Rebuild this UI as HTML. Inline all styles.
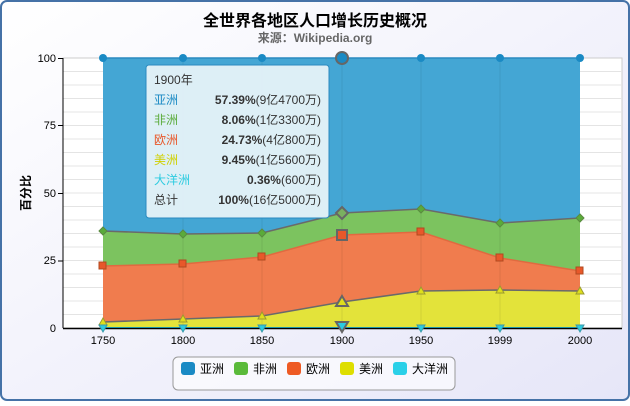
<!DOCTYPE html>
<html><head><meta charset="utf-8"><style>
body{margin:0;width:630px;height:401px;overflow:hidden;font-family:"Liberation Sans","Noto Sans CJK SC",sans-serif;}
</style></head><body>
<svg width="630" height="401" xmlns="http://www.w3.org/2000/svg" font-family="Liberation Sans, Noto Sans CJK SC, sans-serif">
<defs><linearGradient id="bg" x1="0" y1="0" x2="1" y2="1"><stop offset="0" stop-color="#ffffff"/><stop offset="1" stop-color="#e6e6f8"/></linearGradient></defs>
<rect x="1" y="1" width="628" height="399" rx="6" fill="url(#bg)" stroke="#4572a7" stroke-width="2"/>
<text x="315" y="26" text-anchor="middle" font-size="16" font-weight="bold" fill="#000">全世界各地区人口增长历史概况</text>
<text x="315" y="42" text-anchor="middle" font-size="12" font-weight="bold" fill="#666">来源：Wikipedia.org</text>
<rect x="63" y="58" width="559" height="270" fill="#fff" stroke="#ccc"/>
<g stroke="#e4e4e4" stroke-width="1">
<path d="M63 71.5H622M63 85H622M63 98.5H622M63 112H622M63 125.5H622M63 139H622M63 152.5H622M63 166H622M63 179.5H622M63 193H622M63 206.5H622M63 220H622M63 233.5H622M63 247H622M63 260.5H622M63 274H622M63 287.5H622M63 301H622M63 314.5H622"/>
</g>
<path d="M103 58H580V328H103Z" fill="#44a6d4"/>
<path d="M103 231L183 234L262 233L342 213L421 209L500 223L580 218V328H103Z" fill="#7cc35f"/>
<path d="M103 266L183 264L262 257L342 235L421 232L500 258L580 271V328H103Z" fill="#f07c4e"/>
<path d="M103 322L183 319L262 316L342 302L421 291L500 290L580 291V328H103Z" fill="#e3e33a"/>
<path d="M103 327H580V328H103Z" fill="#27c7e0"/>
<g stroke="rgba(0,0,0,0.08)"><path d="M183 58V328M262 58V328M342 58V328M421 58V328M500 58V328"/></g>
<g fill="none" stroke="#6a6a6a" stroke-width="1.5">
<path d="M103 58H580" stroke="#2a8ac0"/>
<path d="M103 231L183 234L262 233L342 213L421 209L500 223L580 218"/>
<path d="M103 266L183 264L262 257L342 235L421 232L500 258L580 271" stroke="#e06a40"/>
<path d="M103 322L183 319L262 316L342 302L421 291L500 290L580 291"/>
</g>
<line x1="63" y1="328.5" x2="622" y2="328.5" stroke="#000" stroke-width="1.5"/>
<line x1="63" y1="58" x2="63" y2="328" stroke="#000"/>
<g stroke="#000"><path d="M58 58.5H63M58 193.5H63M58 261H63M58 125.5H63"/></g>
<g font-size="11" fill="#000" text-anchor="end">
<text x="56" y="62">100</text><text x="56" y="129">75</text><text x="56" y="197">50</text><text x="56" y="264">25</text><text x="56" y="332">0</text></g>
<text transform="translate(30,193) rotate(-90)" text-anchor="middle" font-size="12" font-weight="bold">百分比</text>
<g font-size="11" text-anchor="middle">
<text x="103" y="344">1750</text><text x="183" y="344">1800</text><text x="262" y="344">1850</text><text x="342" y="344">1900</text><text x="421" y="344">1950</text><text x="500" y="344">1999</text><text x="580" y="344">2000</text></g>
<g fill="#1a8ac4"><circle cx="103" cy="58" r="4"/><circle cx="183" cy="58" r="4"/><circle cx="262" cy="58" r="4"/><circle cx="421" cy="58" r="4"/><circle cx="500" cy="58" r="4"/><circle cx="580" cy="58" r="4"/><circle cx="342" cy="58" r="6" stroke="#666" stroke-width="2"/></g>
<g fill="#5aab3a" stroke="#5a8a40"><path d="M103 227l4 4-4 4-4-4z"/><path d="M183 230l4 4-4 4-4-4z"/><path d="M262 229l4 4-4 4-4-4z"/><path d="M421 205l4 4-4 4-4-4z"/><path d="M500 219l4 4-4 4-4-4z"/><path d="M580 214l4 4-4 4-4-4z"/><path d="M342 207l6 6-6 6-6-6z" fill="#7ab060" stroke="#666" stroke-width="2"/></g>
<g fill="#e8582a" stroke="#b04a20"><rect x="99" y="262" width="7" height="7"/><rect x="179" y="260" width="7" height="7"/><rect x="258" y="253" width="7" height="7"/><rect x="417" y="228" width="7" height="7"/><rect x="496" y="254" width="7" height="7"/><rect x="576" y="267" width="7" height="7"/><rect x="337" y="230" width="10" height="10" stroke="#666" stroke-width="2"/></g>
<g fill="#dede1c" stroke="#9a9a30"><path d="M103 318l4 7h-8z"/><path d="M183 315l4 7h-8z"/><path d="M262 312l4 7h-8z"/><path d="M421 287l4 7h-8z"/><path d="M500 286l4 7h-8z"/><path d="M580 287l4 7h-8z"/><path d="M342 296l6 10h-12z" stroke="#666" stroke-width="2"/></g>
<g fill="#2ccbe0" stroke="#3a9aaa"><path d="M99 325h8l-4 7z"/><path d="M179 325h8l-4 7z"/><path d="M258 325h8l-4 7z"/><path d="M417 325h8l-4 7z"/><path d="M496 325h8l-4 7z"/><path d="M576 325h8l-4 7z"/><path d="M336 322h12l-6 10z" stroke="#666" stroke-width="2"/></g>
<rect x="146" y="65" width="183" height="153" rx="3" fill="#e6f2f8" fill-opacity="0.95" stroke="#2a8ac0" stroke-width="1"/>
<g font-size="12">
<text x="154" y="84" fill="#333">1900年</text>
<text x="154" y="104" fill="#1a8ac4">亚洲</text><text x="321" y="104" text-anchor="end" fill="#333"><tspan font-weight="bold">57.39%</tspan>(9亿4700万)</text>
<text x="154" y="124" fill="#5aab3a">非洲</text><text x="321" y="124" text-anchor="end" fill="#333"><tspan font-weight="bold">8.06%</tspan>(1亿3300万)</text>
<text x="154" y="144" fill="#e8582a">欧洲</text><text x="321" y="144" text-anchor="end" fill="#333"><tspan font-weight="bold">24.73%</tspan>(4亿800万)</text>
<text x="154" y="164" fill="#d0d000">美洲</text><text x="321" y="164" text-anchor="end" fill="#333"><tspan font-weight="bold">9.45%</tspan>(1亿5600万)</text>
<text x="154" y="184" fill="#2ccbe0">大洋洲</text><text x="321" y="184" text-anchor="end" fill="#333"><tspan font-weight="bold">0.36%</tspan>(600万)</text>
<text x="154" y="204" fill="#333">总计</text><text x="321" y="204" text-anchor="end" fill="#333"><tspan font-weight="bold">100%</tspan>(16亿5000万)</text>
</g>
<rect x="173" y="357" width="282" height="33" rx="5" fill="#fff" fill-opacity="0.6" stroke="#999"/>
<g font-size="12">
<rect x="181" y="362" width="14" height="13" rx="3" fill="#1a8ac4"/><text x="200" y="373">亚洲</text>
<rect x="234" y="362" width="14" height="13" rx="3" fill="#5aba3a"/><text x="253" y="373">非洲</text>
<rect x="287" y="362" width="14" height="13" rx="3" fill="#ee5a24"/><text x="306" y="373">欧洲</text>
<rect x="340" y="362" width="14" height="13" rx="3" fill="#dede00"/><text x="359" y="373">美洲</text>
<rect x="393" y="362" width="14" height="13" rx="3" fill="#2ad0e8"/><text x="412" y="373">大洋洲</text>
</g>
</svg>
</body></html>
